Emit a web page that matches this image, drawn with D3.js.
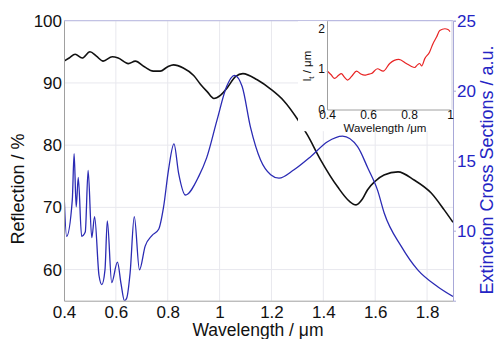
<!DOCTYPE html>
<html>
<head>
<meta charset="utf-8">
<script src="https://cdn.jsdelivr.net/npm/d3@7"></script>
<style>
  body { margin: 0; background: #fff; }
  svg { font-family: "Liberation Sans", Arial, sans-serif; }
</style>
</head>
<body>
<svg id="chart" width="496" height="339"></svg>
<script>
// reflection spectrum (left axis, %)
var reflWl = [0.40, 0.42, 0.443, 0.47, 0.50, 0.525, 0.551, 0.586, 0.609, 0.648, 0.675, 0.71, 0.744, 0.771, 0.80, 0.822, 0.86,
  0.90, 0.926, 0.952, 0.978, 1.003, 1.029, 1.061, 1.09, 1.145, 1.197, 1.248, 1.30, 1.339, 1.39, 1.455, 1.50, 1.526, 1.55,
  1.57, 1.60, 1.634, 1.688, 1.75, 1.816, 1.866, 1.90];
var reflVal = [93.5, 94.0, 94.6, 94.0, 95.0, 94.3, 93.5, 94.2, 94.0, 93.1, 93.5, 92.6, 91.9, 91.9, 92.6, 92.9, 92.4,
  91.2, 89.8, 88.6, 87.5, 88.0, 89.2, 91.0, 91.5, 90.5, 89.0, 87.1, 84.2, 81.6, 77.6, 73.3, 71.0, 70.4, 71.3,
  72.8, 74.2, 75.2, 75.7, 74.4, 72.3, 69.6, 67.6];

// extinction cross section (right axis, a.u.)
var extWl = [0.400, 0.410, 0.432, 0.439, 0.447, 0.455, 0.468, 0.482, 0.493, 0.507, 0.518, 0.535, 0.546, 0.558, 0.567,
  0.584, 0.606, 0.620, 0.633, 0.642, 0.655, 0.671, 0.691, 0.713, 0.739, 0.765, 0.784, 0.803, 0.824, 0.842, 0.868,
  0.92, 0.95, 0.99, 1.027, 1.057, 1.087, 1.119, 1.158, 1.197, 1.229, 1.287, 1.352, 1.416, 1.474, 1.532, 1.571,
  1.609, 1.635, 1.70, 1.764, 1.841, 1.90];
var extVal = [12.8, 9.6, 12.2, 15.5, 11.7, 13.8, 9.6, 9.9, 14.3, 9.5, 11.0, 6.8, 6.15, 7.2, 10.7,
  6.3, 7.75, 6.2, 5.0, 5.2, 7.0, 11.0, 7.2, 8.9, 9.65, 10.1, 11.7, 14.35, 16.2, 14.1, 12.55,
  13.9, 15.2, 17.9, 20.3, 21.1, 20.3, 17.4, 15.05, 14.0, 13.75, 14.35, 15.3, 16.35, 16.75, 16.0, 14.5,
  12.9, 11.25, 8.9, 7.2, 6.0, 5.3];

// inset: lt vs wavelength
var ltWl = [0.40, 0.42, 0.437, 0.455, 0.47, 0.485, 0.50, 0.52, 0.544, 0.565, 0.584, 0.60, 0.617, 0.646, 0.674, 0.706,
  0.75, 0.787, 0.81, 0.828, 0.84, 0.852, 0.862, 0.877, 0.90, 0.917, 0.935, 0.95, 0.975, 0.99, 1.0];
var ltVal = [0.96, 0.86, 0.77, 0.84, 0.89, 0.80, 0.73, 0.82, 0.95, 0.88, 0.85, 0.87, 0.89, 1.01, 0.95, 1.14,
  1.24, 1.14, 1.07, 1.04, 1.10, 1.14, 1.08, 1.26, 1.42, 1.63, 1.80, 1.96, 2.00, 1.98, 1.93];

var xTicks = [0.4, 0.6, 0.8, 1, 1.2, 1.4, 1.6, 1.8];
var leftTicks = [60, 70, 80, 90, 100];
var rightTicks = [10, 15, 20, 25];
var insetXTicks = [0.4, 0.6, 0.8, 1];
var insetYTicks = [0, 1, 2];

var blue = "#2424c4";
var svg = d3.select("#chart");

var pLeft = 64, pRight = 453, pTop = 20.7, pBottom = 300.7;

var x = d3.scaleLinear().domain([0.4, 1.9]).range([pLeft, pRight]);
var yL = d3.scaleLinear().domain([55, 100]).range([pBottom, pTop]);
var yR = d3.scaleLinear().domain([5, 25]).range([pBottom, pTop]);

// grid
svg.append("g").selectAll("line").data(xTicks.slice(1)).enter().append("line")
  .attr("x1", d => x(d)).attr("x2", d => x(d)).attr("y1", pTop).attr("y2", pBottom)
  .attr("stroke", "#e8e8ee").attr("stroke-width", 1);
svg.append("g").selectAll("line").data(leftTicks).enter().append("line")
  .attr("x1", pLeft).attr("x2", pRight).attr("y1", d => yL(d)).attr("y2", d => yL(d))
  .attr("stroke", "#e8e8ee").attr("stroke-width", 1);

svg.append("clipPath").attr("id", "plotclip").append("rect")
  .attr("x", pLeft).attr("y", pTop).attr("width", pRight - pLeft).attr("height", pBottom - pTop);

// top border
svg.append("line").attr("x1", pLeft).attr("x2", pRight).attr("y1", pTop).attr("y2", pTop)
  .attr("stroke", "#b8b8e0").attr("stroke-width", 1);

var reflLine = d3.line().x(d => x(d[0])).y(d => yL(d[1])).curve(d3.curveMonotoneX);
var extLine = d3.line().x(d => x(d[0])).y(d => yR(d[1])).curve(d3.curveMonotoneX);

svg.append("path")
  .datum(d3.zip(reflWl, reflVal))
  .attr("clip-path", "url(#plotclip)")
  .attr("d", reflLine)
  .attr("fill", "none").attr("stroke", "#111").attr("stroke-width", 1.6);

svg.append("path")
  .datum(d3.zip(extWl, extVal))
  .attr("clip-path", "url(#plotclip)")
  .attr("d", extLine)
  .attr("fill", "none").attr("stroke", "#2b2bb4").attr("stroke-width", 1.3);

// axes
var xAxis = svg.append("g").attr("transform", "translate(0," + pBottom + ")")
  .call(d3.axisBottom(x).tickValues(xTicks).tickSize(0).tickPadding(5).tickFormat(d3.format("~g")));
xAxis.select(".domain").attr("stroke", "#a0a0a0");
xAxis.selectAll("text").style("font-size", "17px").attr("fill", "#111");

var yAxisL = svg.append("g").attr("transform", "translate(" + pLeft + ",0)")
  .call(d3.axisLeft(yL).tickValues(leftTicks).tickSize(0).tickPadding(2));
yAxisL.select(".domain").attr("stroke", "#a0a0a0");
yAxisL.selectAll("text").style("font-size", "17px").attr("fill", "#111");

var yAxisR = svg.append("g").attr("transform", "translate(" + pRight + ",0)")
  .call(d3.axisRight(yR).tickValues(rightTicks).tickSize(3).tickPadding(1));
yAxisR.select(".domain").attr("stroke", "#a8a8d8");
yAxisR.selectAll("line").attr("stroke", "#a8a8d8");
yAxisR.selectAll("text").style("font-size", "17px").attr("fill", blue);

svg.append("text").attr("x", 258).attr("y", 336).attr("text-anchor", "middle")
  .style("font-size", "17.5px").attr("fill", "#111").text("Wavelength / \u03bcm");
svg.append("text").attr("transform", "translate(24,189) rotate(-90)").attr("text-anchor", "middle")
  .style("font-size", "18px").attr("fill", "#111").text("Reflection / %");
svg.append("text").attr("transform", "translate(487,170) rotate(-90)").attr("text-anchor", "middle")
  .attr("dy", "0.35em").style("font-size", "18px").attr("fill", blue).text("Extinction Cross Sections / a.u.");

// inset
var ix = d3.scaleLinear().domain([0.4, 1]).range([327, 450]);
var iy = d3.scaleLinear().domain([0, 2.2]).range([109.5, 20.7]);

svg.append("rect").attr("x", 298).attr("y", 21.2).attr("width", 154.5).attr("height", 110)
  .attr("fill", "#fff");
svg.append("line").attr("x1", 327).attr("x2", 452).attr("y1", 20.7).attr("y2", 20.7)
  .attr("stroke", "#b8b8e0");
svg.append("line").attr("x1", 452).attr("x2", 452).attr("y1", 20.7).attr("y2", 109.5)
  .attr("stroke", "#d0d0e0");

svg.append("path")
  .datum(d3.zip(ltWl, ltVal))
  .attr("d", d3.line().x(d => ix(d[0])).y(d => iy(d[1])).curve(d3.curveMonotoneX))
  .attr("fill", "none").attr("stroke", "#e82424").attr("stroke-width", 1.2);

var ixAxis = svg.append("g").attr("transform", "translate(0,109.5)")
  .call(d3.axisBottom(ix).tickValues(insetXTicks).tickSize(0).tickPadding(1).tickFormat(d3.format("~g")));
ixAxis.select(".domain").attr("stroke", "#a0a0a0");
ixAxis.selectAll("text").style("font-size", "12px").attr("fill", "#111");

var iyAxis = svg.append("g").attr("transform", "translate(327,0)")
  .call(d3.axisLeft(iy).tickValues(insetYTicks).tickSize(0).tickPadding(2).tickFormat(d3.format("d")));
iyAxis.select(".domain").attr("stroke", "#a0a0a0");
iyAxis.selectAll("text").style("font-size", "12px").attr("fill", "#111");

svg.append("text").attr("x", 385).attr("y", 132).attr("text-anchor", "middle")
  .style("font-size", "11.5px").attr("fill", "#111").text("Wavelength /\u03bcm");

var ilab = svg.append("text").attr("transform", "translate(311,66) rotate(-90)").attr("text-anchor", "middle")
  .style("font-size", "11.5px").attr("fill", "#111");
ilab.append("tspan").text("l");
ilab.append("tspan").attr("dy", "3").style("font-size", "8px").text("t");
ilab.append("tspan").attr("dy", "-3").text(" / \u03bcm");
</script>
</body>
</html>
